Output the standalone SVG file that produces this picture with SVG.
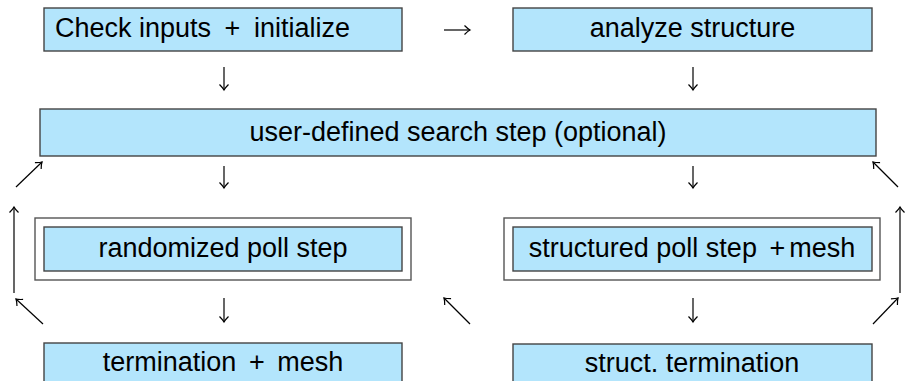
<svg xmlns="http://www.w3.org/2000/svg" width="905" height="381" viewBox="0 0 905 381">
<style>
.box{fill:#b3e5fc;stroke:#444;stroke-width:1.4}
.frame{fill:#fff;stroke:#555;stroke-width:1.4}
.t{font-family:"Liberation Sans",Arial,sans-serif;font-size:27px;fill:#000}
.c{text-anchor:middle}
.a{stroke:#000;stroke-width:1.2;fill:none;marker-end:url(#tip)}
</style>
<defs>
<marker id="tip" markerUnits="userSpaceOnUse" markerWidth="12" markerHeight="12" viewBox="-7 -6 8 12" refX="0" refY="0" orient="auto">
<path d="M-5.5,-4.5 Q-2,-1 0,0 Q-2,1 -5.5,4.5" fill="none" stroke="#000" stroke-width="1.2"/>
</marker>
</defs>
<rect width="905" height="381" fill="#fff"/>
<g id="n1"><rect class="box" x="44" y="8" width="358" height="43"/><text class="t" x="55" y="37">Check inputs <tspan dx="6">+</tspan><tspan dx="6"> initialize</tspan></text></g>
<g id="n2"><rect class="box" x="513" y="8" width="359" height="43"/><text class="t c" x="692.5" y="37">analyze structure</text></g>
<g id="n3"><rect class="box" x="40" y="109" width="836" height="47"/><text class="t c" x="458" y="141">user-defined search step (optional)</text></g>
<g id="n4"><rect class="frame" x="35" y="218" width="376" height="62"/><rect class="box" x="44" y="227" width="358" height="44"/><text class="t c" x="223" y="257">randomized poll step</text></g>
<g id="n5"><rect class="frame" x="504" y="218" width="376" height="62"/><rect class="box" x="513" y="227" width="359" height="44"/><text class="t c" x="692" y="257">structured poll step <tspan dx="5">+</tspan><tspan dx="4">mesh</tspan></text></g>
<g id="n6"><rect class="box" x="44" y="343" width="358" height="44"/><text class="t c" x="223" y="371">termination <tspan dx="5">+</tspan><tspan dx="5"> mesh</tspan></text></g>
<g id="n7"><rect class="box" x="513" y="344" width="359" height="44"/><text class="t c" x="692" y="372">struct. termination</text></g>
<g id="connectors">
<line class="a" x1="444" y1="30" x2="470" y2="30"/>
<line class="a" x1="224" y1="67" x2="224" y2="90"/>
<line class="a" x1="693" y1="67" x2="693" y2="90"/>
<line class="a" x1="224" y1="166" x2="224" y2="188"/>
<line class="a" x1="693" y1="166" x2="693" y2="188"/>
<line class="a" x1="224" y1="298" x2="224" y2="322"/>
<line class="a" x1="693" y1="298" x2="693" y2="322"/>
<line class="a" x1="16" y1="187" x2="42" y2="162"/>
<line class="a" x1="14" y1="293" x2="14" y2="207"/>
<line class="a" x1="43" y1="324" x2="16" y2="299"/>
<line class="a" x1="470" y1="324" x2="444" y2="298"/>
<line class="a" x1="873" y1="324" x2="898" y2="298"/>
<line class="a" x1="900" y1="293" x2="900" y2="207"/>
<line class="a" x1="898" y1="187" x2="873" y2="162"/>
</g>
</svg>
